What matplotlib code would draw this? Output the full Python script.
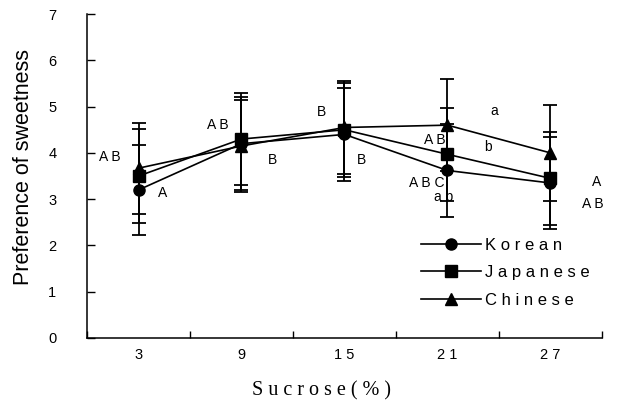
import matplotlib
matplotlib.use("Agg")
import matplotlib.pyplot as plt
from matplotlib.lines import Line2D

categories = ["3", "9", "15", "21", "27"]
korean = [3.20, 4.20, 4.40, 3.62, 3.35]
japanese = [3.50, 4.30, 4.50, 3.97, 3.45]
chinese = [3.67, 4.15, 4.55, 4.60, 4.00]
korean_sd = [0.98, 1.00, 1.00, 1.00, 1.00]
japanese_sd = [1.02, 1.00, 1.02, 1.00, 1.00]
chinese_sd = [0.98, 1.00, 1.00, 1.00, 1.03]

# significance letters: (x, y, text) in data coordinates
letters = [
    (-0.28, 3.91, "A B"), (0.23, 3.13, "A"),
    (0.77, 4.60, "A B"), (1.30, 3.84, "B"),
    (1.78, 4.88, "B"), (2.17, 3.84, "B"),
    (2.88, 4.28, "A B"), (2.80, 3.35, "A B C"), (2.96, 3.05, "a b"),
    (3.39, 4.13, "b"), (3.45, 4.90, "a"),
    (4.45, 3.37, "A"), (4.41, 2.89, "A B"),
]

plt.rcParams['font.family'] = ['Liberation Sans', 'DejaVu Sans']

fig = plt.figure(figsize=(6.37, 4.03), dpi=100)
ax = fig.add_axes([0.1366, 0.1613, 0.8084, 0.8037])

x = list(range(len(categories)))
series = [
    ("K o r e a n", korean, korean_sd, "o"),
    ("J a p a n e s e", japanese, japanese_sd, "s"),
    ("C h i n e s e", chinese, chinese_sd, "^"),
]
handles = []
for label, vals, sd, mk in series:
    ax.errorbar(x, vals, yerr=sd, color="black", marker=mk, markersize=8,
                linewidth=1.2, elinewidth=1.3, capsize=4.7, capthick=1.3)
    handles.append(Line2D([], [], color="black", marker=mk, markersize=8,
                          linewidth=1.2, label=label))

for tx, ty, t in letters:
    ax.text(tx, ty, t, fontsize=10, ha="center", va="center")

ax.set_xlim(-0.5, 4.5)
ax.set_ylim(0, 7)
ax.set_xticks([-0.5, 0.5, 1.5, 2.5, 3.5, 4.5])
ax.set_xticklabels([])
ax.set_xticks(x, minor=True)
ax.set_xticklabels([" ".join(c) for c in categories], minor=True, fontsize=10.5)
ax.tick_params(axis="x", which="major", direction="in", length=5, width=1)
ax.tick_params(axis="x", which="minor", length=0, pad=7)
ax.set_yticks(range(8))
ax.tick_params(axis="y", direction="in", length=6, width=1, labelsize=10.5, pad=22)

for s in ["top", "right"]:
    ax.spines[s].set_visible(False)
for s in ["left", "bottom"]:
    ax.spines[s].set_linewidth(1.1)

ax.set_ylabel("Preference of sweetness", fontsize=15.5)
ax.yaxis.set_label_coords(-0.103, 0.527)
ax.set_xlabel("S u c r o s e ( % )", fontsize=14.5,
              family=["Liberation Serif", "DejaVu Serif"])
ax.xaxis.set_label_coords(0.456, -0.135)

leg = ax.legend(handles=handles, loc="lower left", bbox_to_anchor=(0.62, 0.047),
                frameon=False, fontsize=12, handlelength=3.6, handletextpad=0.2,
                labelspacing=0.75)

fig.savefig("out.png", dpi=100)
